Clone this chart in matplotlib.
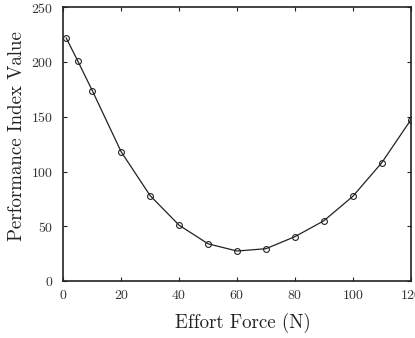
import matplotlib
matplotlib.use('Agg')
import matplotlib.pyplot as plt

plt.rcParams['font.family'] = ['cmr10', 'DejaVu Serif']
plt.rcParams['axes.formatter.use_mathtext'] = True

effortForce = [1, 5, 10, 20, 30, 40, 50, 60, 70, 80, 90, 100, 110, 120]
performanceIndex = [222, 201, 174, 118, 78, 51, 34, 27.4, 29.5, 40.5, 55, 77.3, 108, 147]

xTicks = [0, 20, 40, 60, 80, 100, 120]
yTicks = [0, 50, 100, 150, 200, 250]

fig = plt.figure(figsize=(4.15, 3.38), dpi=100)
ax = fig.add_axes([0.1525, 0.1686, 0.8371, 0.8098])

ax.plot(effortForce, performanceIndex, color='#222222', linewidth=0.9,
        marker='o', markersize=4.2, markerfacecolor='none',
        markeredgecolor='#222222', markeredgewidth=0.8)

ax.set_xlim(0, 120)
ax.set_ylim(0, 250)
ax.set_xticks(xTicks)
ax.set_yticks(yTicks)
ax.tick_params(direction='in', top=True, right=True, length=3, width=0.8,
               labelsize=10, colors='#222222', labelcolor='#333333')
ax.tick_params(axis='x', pad=6)
ax.tick_params(axis='y', pad=7)
for spine in ax.spines.values():
    spine.set_linewidth(1.2)
    spine.set_color('#222222')

ax.set_xlabel('Effort Force (N)', fontsize=13.6, color='#222222')
ax.set_ylabel('Performance Index Value', fontsize=13.6, color='#222222')
ax.xaxis.label.set_va('center')
ax.yaxis.label.set_va('center')
ax.xaxis.set_label_coords(0.517, -0.152)
ax.yaxis.set_label_coords(-0.133, 0.528)

fig.savefig('out.png', dpi=100)
